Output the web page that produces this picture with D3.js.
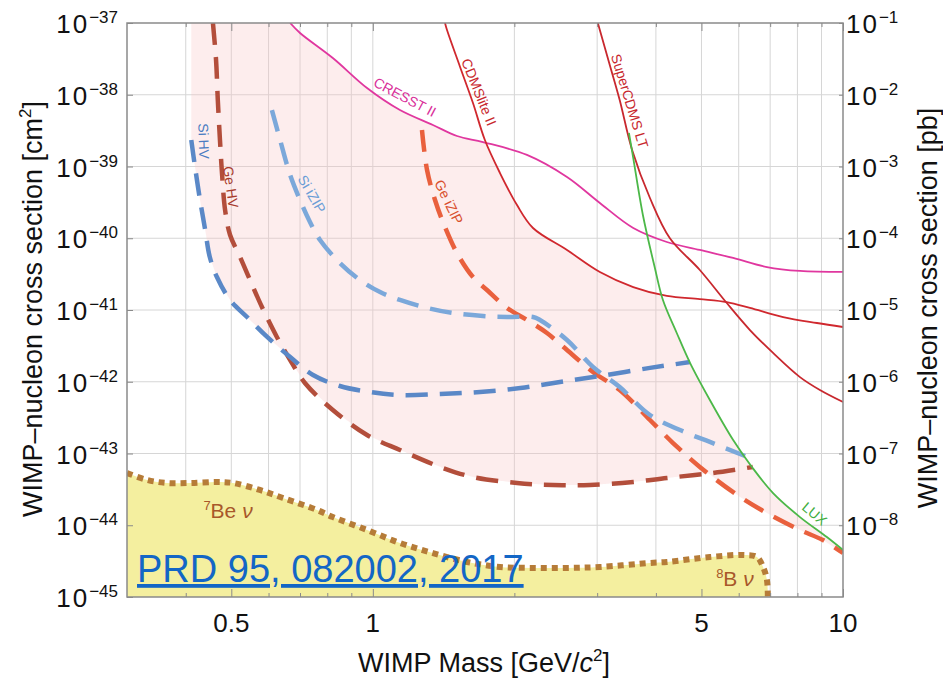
<!DOCTYPE html>
<html>
<head>
<meta charset="utf-8">
<script src="https://cdn.jsdelivr.net/npm/d3@7"></script>
<style>
  body { margin: 0; background: #fff; }
  text { font-family: "Liberation Sans", Arial, Helvetica, sans-serif; }
</style>
</head>
<body>
<div id="chart-area"></div>
<script>
// curves: [WIMP mass (GeV), cross section (cm^2)]
const cresst = [[0.667,1e-37],[0.700,7.26e-38],[0.822,3.25e-38],[0.972,1.24e-38],[1.142,6.12e-39],
  [1.342,3.79e-39],[1.510,2.66e-39],[1.715,2.19e-39],[2.127,1.45e-39],[2.588,7.14e-40],[3.04,3.10e-40],
  [3.58,1.39e-40],[4.22,8.87e-41],[4.96,6.86e-41],[5.84,5.31e-41],[6.89,3.97e-41],[8.10,3.50e-41],[10,3.39e-41]];

const cdmslite = [[1.424,1e-37],[1.438,7.98e-38],[1.533,2.44e-38],[1.633,7.67e-39],[1.731,2.34e-39],
  [1.864,8.11e-40],[2.026,2.90e-40],[2.191,1.39e-40],[2.588,6.86e-41],[3.04,3.39e-41],[3.58,2.09e-41],
  [4.22,1.57e-41],[4.96,1.42e-41],[5.66,1.29e-41],[6.34,1.07e-41],[7.46,7.98e-42],[8.80,6.59e-42],[10,5.79e-42]];

const superCdmsLT = [[3.01,1e-37],[3.20,2.44e-38],[3.35,8.45e-39],[3.56,1.70e-39],[3.885,3.64e-40],
  [4.28,1.01e-40],[4.96,3.61e-41],[5.66,1.25e-41],[6.34,5.26e-42],[7.10,2.52e-42],[8.10,1.16e-42],
  [8.93,7.67e-43],[10,5.22e-43]];

const lux = [[3.505,2.93e-39],[3.58,1.31e-39],[3.753,2.11e-40],[3.98,3.85e-41],[4.14,1.38e-41],
  [4.43,4.78e-42],[4.73,1.82e-42],[5.21,5.57e-43],[5.84,1.54e-43],[6.40,6.49e-44],[7.10,2.81e-44],
  [8.10,1.30e-44],[9.24,6.85e-45],[10,4.52e-45]];

const geIZIP = [[1.272,3.23e-39],[1.304,8.93e-40],[1.356,3.41e-40],[1.410,1.68e-40],[1.510,6.22e-41],
  [1.633,2.88e-41],[1.749,1.90e-41],[1.929,1.07e-41],[2.127,7.26e-42],[2.346,4.78e-42],[2.588,2.77e-42],
  [2.939,1.37e-42],[3.35,7.67e-43],[3.885,2.93e-43],[4.35,1.40e-43],[4.96,6.49e-44],[6.04,2.48e-44],
  [6.89,1.48e-44],[8.10,8.59e-45],[9.06,6.22e-45],[10,4.10e-45]];

const siIZIP = [[0.610,6.12e-39],[0.635,2.34e-39],[0.667,7.62e-40],[0.700,3.41e-40],[0.735,1.68e-40],
  [0.772,9.46e-41],[0.851,4.52e-41],[0.939,2.62e-41],[1.036,1.78e-41],[1.142,1.38e-41],[1.304,1.07e-41],
  [1.480,9.08e-42],[1.715,8.24e-42],[1.929,7.98e-42],[2.191,7.98e-42],[2.267,7.26e-42],[2.588,3.82e-42],
  [2.939,1.61e-42],[3.35,8.45e-43],[3.885,3.44e-43],[4.66,1.93e-43],[5.21,1.45e-43],[6.19,9.23e-44]];

const siHV = [[0.411,2.34e-39],[0.418,1.05e-39],[0.429,3.41e-40],[0.440,1.30e-40],[0.450,5.48e-41],
  [0.466,2.88e-41],[0.497,1.38e-41],[0.540,7.98e-42],[0.596,4.21e-42],[0.667,2.21e-42],[0.746,1.24e-42],
  [0.851,8.73e-43],[0.986,7.20e-43],[1.142,6.53e-43],[1.390,6.75e-43],[1.690,7.20e-43],[2.06,8.19e-43],
  [2.500,9.93e-43],[3.04,1.20e-42],[3.885,1.56e-42],[4.73,1.88e-42]];

const geHV = [[0.457,1e-37],[0.464,3.05e-38],[0.468,8.45e-39],[0.473,2.34e-39],[0.478,7.62e-40],
  [0.485,2.48e-40],[0.497,1.11e-40],[0.522,5.48e-41],[0.548,2.62e-41],[0.581,1.10e-41],[0.625,4.21e-42],
  [0.667,2.01e-42],[0.717,9.62e-43],[0.822,4.04e-43],[0.972,1.81e-43],[1.142,1.12e-43],[1.410,6.28e-44],
  [1.633,4.70e-44],[2.026,3.88e-44],[2.416,3.64e-44],[2.896,3.64e-44],[3.58,4.01e-44],[4.22,4.56e-44],
  [5.29,5.35e-44],[6.43,6.49e-44]];

const neutrinoFloor = [[0.3,5.35e-44],[0.331,4.28e-44],[0.365,3.88e-44],[0.408,3.88e-44],[0.466,4.01e-44],
  [0.504,3.88e-44],[0.575,3.10e-44],[0.644,2.40e-44],[0.761,1.63e-44],[0.822,1.30e-44],[0.972,8.59e-45],
  [1.142,5.66e-45],[1.342,4.10e-45],[1.586,3.08e-45],[1.864,2.62e-45],[2.191,2.54e-45],[2.588,2.54e-45],
  [3.04,2.62e-45],[3.885,2.98e-45],[4.22,3.08e-45],[5.21,3.61e-45],[6.13,3.85e-45],[6.56,3.61e-45],
  [6.76,2.62e-45],[6.89,1.73e-45],[6.92,1e-45]];

const xTickLabels = [0.5, 1, 5, 10];
const xMinorTicks = [0.4, 0.6, 0.7, 0.8, 0.9, 2, 3, 4, 6, 7, 8, 9];
const yExpCm = [-45, -44, -43, -42, -41, -40, -39, -38, -37];
const yExpPb = [-8, -7, -6, -5, -4, -3, -2, -1];

const margin = { left: 127, right: 100, top: 23, bottom: 81 };
const width = 943 - margin.left - margin.right;
const height = 678 - margin.top - margin.bottom;

const svg = d3.select('#chart-area').append('svg')
  .attr('width', 943)
  .attr('height', 678);

const g = svg.append('g')
  .attr('transform', `translate(${margin.left}, ${margin.top})`);

const x = d3.scaleLog().domain([0.3, 10]).range([0, width]);
const y = d3.scaleLog().domain([1e-45, 1e-37]).range([height, 0]);
const yPb = d3.scaleLog().domain([1e-9, 1e-1]).range([height, 0]);

svg.append('clipPath').attr('id', 'plot-clip')
  .append('rect').attr('width', width).attr('height', height);

// grid
const grid = g.append('g').attr('stroke', '#d6d6d6').attr('stroke-width', 1);
grid.selectAll('.vgrid')
  .data(xMinorTicks.concat([0.5, 1, 5]))
  .enter().append('line')
    .attr('x1', d => x(d)).attr('x2', d => x(d))
    .attr('y1', 0).attr('y2', height);
grid.selectAll('.hgrid')
  .data(yExpCm.slice(1, -1))
  .enter().append('line')
    .attr('x1', 0).attr('x2', width)
    .attr('y1', d => y(Math.pow(10, d))).attr('y2', d => y(Math.pow(10, d)));

const plot = g.append('g').attr('clip-path', 'url(#plot-clip)');

// pink region: above the lowest projection, below the current limits
function logAt(curve, m) {
  const lm = Math.log10(m);
  for (let i = 0; i < curve.length - 1; i++) {
    const a = Math.log10(curve[i][0]), b = Math.log10(curve[i + 1][0]);
    if (lm >= a && lm <= b) {
      const t = b > a ? (lm - a) / (b - a) : 0;
      const ya = Math.log10(curve[i][1]), yb = Math.log10(curve[i + 1][1]);
      return ya + t * (yb - ya);
    }
  }
  return NaN;
}
const limits = [cresst, cdmslite, superCdmsLT, lux];
const projections = [siHV, geHV, siIZIP, geIZIP];
const m0 = siHV[0][0];
const band = d3.range(0, 501).map(i => {
  const m = m0 * Math.pow(10 / m0, i / 500);
  const hi = Math.min(-37, ...limits.map(c => logAt(c, m)).filter(v => isFinite(v)));
  const lo = Math.min(...projections.map(c => logAt(c, m)).filter(v => isFinite(v)));
  return { m, hi, lo: Math.max(lo, -45) };
});
plot.append('path')
  .attr('d', d3.area()
    .x(d => x(d.m))
    .y0(d => y(Math.pow(10, d.lo)))
    .y1(d => y(Math.pow(10, Math.max(d.hi, d.lo))))(band))
  .attr('fill', '#f7c4c4')
  .attr('fill-opacity', 0.3);

// neutrino floor
const curve = d3.curveCatmullRom.alpha(0.5);
plot.append('path')
  .attr('d', d3.area().x(d => x(d[0])).y0(height).y1(d => y(d[1])).curve(curve)(neutrinoFloor))
  .attr('fill', '#f4ef9f');
plot.append('path')
  .attr('d', d3.line().x(d => x(d[0])).y(d => y(d[1])).curve(curve)(neutrinoFloor))
  .attr('fill', 'none')
  .attr('stroke', '#b67c38')
  .attr('stroke-width', 6)
  .attr('stroke-dasharray', '6,5');

const line = d3.line().x(d => x(d[0])).y(d => y(d[1])).curve(curve);

// projected sensitivities (dashed)
const dashed = [
  { data: geHV, color: '#b34e3b' },
  { data: geIZIP, color: '#e9603d' },
  { data: siHV, color: '#5a88c7' },
  { data: siIZIP, color: '#7ba8da' }
];
plot.selectAll('.proj')
  .data(dashed)
  .enter().append('path')
    .attr('d', d => line(d.data))
    .attr('fill', 'none')
    .attr('stroke', d => d.color)
    .attr('stroke-width', 4.5)
    .attr('stroke-dasharray', '22,12');

// current limits (solid)
const solid = [
  { data: cresst, color: '#e0379f' },
  { data: cdmslite, color: '#d0282e' },
  { data: superCdmsLT, color: '#c8282e' },
  { data: lux, color: '#4cb848' }
];
plot.selectAll('.limit')
  .data(solid)
  .enter().append('path')
    .attr('d', d => line(d.data))
    .attr('fill', 'none')
    .attr('stroke', d => d.color)
    .attr('stroke-width', 1.8);

// curve labels, set just beside their lines
const curveLabels = [
  { text: 'CRESST II', m: 1.170, s: 9.31e-39, angle: 28, color: '#d9309a' },
  { text: 'CDMSlite II', m: 1.682, s: 1.09e-38, angle: 68, color: '#c8282e' },
  { text: 'SuperCDMS LT', m: 3.52, s: 8.18e-39, angle: 73, color: '#c8282e' },
  { text: 'LUX', m: 8.70, s: 1.45e-44, angle: 40, color: '#3fae3f' },
  { text: 'Ge iZIP', m: 1.452, s: 3.20e-40, angle: 64, color: '#d9502e' },
  { text: 'Si iZIP', m: 0.742, s: 4.14e-40, angle: 60, color: '#6b9dd6' },
  { text: 'Si HV', m: 0.437, s: 2.26e-39, angle: 88, color: '#4a7cc2' },
  { text: 'Ge HV', m: 0.499, s: 5.18e-40, angle: 82, color: '#a83a2c' }
];
g.selectAll('.clabel')
  .data(curveLabels)
  .enter().append('text')
    .attr('transform', d => `translate(${x(d.m)}, ${y(d.s)}) rotate(${d.angle})`)
    .attr('text-anchor', 'middle')
    .attr('dominant-baseline', 'central')
    .attr('font-size', '14px')
    .attr('fill', d => d.color)
    .text(d => d.text);

// neutrino labels
const nuLabels = [
  { iso: '7', el: 'Be', m: 0.492, s: 1.63e-44 },
  { iso: '8', el: 'B', m: 5.89, s: 1.84e-45 }
];
const nu = g.selectAll('.nulabel')
  .data(nuLabels)
  .enter().append('text')
    .attr('x', d => x(d.m))
    .attr('y', d => y(d.s) + 8)
    .attr('text-anchor', 'middle')
    .attr('font-size', '21px')
    .attr('fill', '#a8582a');
nu.append('tspan').attr('font-size', '13px').attr('dy', -8).text(d => d.iso);
nu.append('tspan').attr('dy', 8).text(d => d.el + ' ');
nu.append('tspan').attr('font-style', 'italic').text('ν');

// frame
g.append('rect')
  .attr('width', width).attr('height', height)
  .attr('fill', 'none')
  .attr('stroke', '#8a8a8a')
  .attr('stroke-width', 1.5);

// ticks
const tickColor = '#8a8a8a';
g.append('g').attr('transform', `translate(0, ${height})`)
  .call(d3.axisBottom(x).tickValues(xTickLabels).tickSizeInner(-8).tickSizeOuter(0).tickFormat(''))
  .call(a => a.select('.domain').remove())
  .call(a => a.selectAll('line').attr('stroke', tickColor));
g.append('g').attr('transform', `translate(0, ${height})`)
  .call(d3.axisBottom(x).tickValues(xMinorTicks).tickSizeInner(-4).tickSizeOuter(0).tickFormat(''))
  .call(a => a.select('.domain').remove())
  .call(a => a.selectAll('line').attr('stroke', tickColor));
g.append('g')
  .call(d3.axisTop(x).tickValues(xTickLabels).tickSizeInner(-8).tickSizeOuter(0).tickFormat(''))
  .call(a => a.select('.domain').remove())
  .call(a => a.selectAll('line').attr('stroke', tickColor));
g.append('g')
  .call(d3.axisTop(x).tickValues(xMinorTicks).tickSizeInner(-4).tickSizeOuter(0).tickFormat(''))
  .call(a => a.select('.domain').remove())
  .call(a => a.selectAll('line').attr('stroke', tickColor));
g.append('g')
  .call(d3.axisLeft(y).tickValues(yExpCm.map(e => Math.pow(10, e))).tickSizeInner(-6).tickSizeOuter(0).tickFormat(''))
  .call(a => a.select('.domain').remove())
  .call(a => a.selectAll('line').attr('stroke', tickColor));
g.append('g').attr('transform', `translate(${width}, 0)`)
  .call(d3.axisRight(yPb).tickValues(yExpPb.map(e => Math.pow(10, e))).tickSizeInner(-4).tickSizeOuter(0).tickFormat(''))
  .call(a => a.select('.domain').remove())
  .call(a => a.selectAll('line').attr('stroke', tickColor));

// tick labels
g.selectAll('.xlabel')
  .data(xTickLabels)
  .enter().append('text')
    .attr('x', d => x(d))
    .attr('y', height + 35)
    .attr('text-anchor', 'middle')
    .attr('font-size', '26px')
    .attr('fill', '#111')
    .text(d => d);

const leftLab = g.selectAll('.ylabel')
  .data(yExpCm)
  .enter().append('text')
    .attr('x', -9)
    .attr('y', d => y(Math.pow(10, d)) + 10)
    .attr('text-anchor', 'end')
    .attr('font-size', '26px')
    .attr('fill', '#111');
leftLab.append('tspan').attr('letter-spacing', '2px').text('10');
leftLab.append('tspan').attr('dy', -10).attr('font-size', '17px').text(d => '\u2212' + Math.abs(d));

const rightLab = g.selectAll('.ylabelpb')
  .data(yExpPb)
  .enter().append('text')
    .attr('x', width + 3)
    .attr('y', d => yPb(Math.pow(10, d)) + 10)
    .attr('text-anchor', 'start')
    .attr('font-size', '26px')
    .attr('fill', '#111');
rightLab.append('tspan').attr('letter-spacing', '2px').text('10');
rightLab.append('tspan').attr('dy', -10).attr('font-size', '17px').text(d => '\u2212' + Math.abs(d));

// axis titles
const xTitle = svg.append('text')
  .attr('x', 484).attr('y', 672)
  .attr('text-anchor', 'middle')
  .attr('font-size', '27px')
  .attr('fill', '#111');
xTitle.append('tspan').text('WIMP Mass [GeV/');
xTitle.append('tspan').attr('font-style', 'italic').text('c');
xTitle.append('tspan').attr('dy', -11).attr('font-size', '17px').text('2');
xTitle.append('tspan').attr('dy', 11).text(']');

const yTitle = svg.append('text')
  .attr('transform', 'translate(42, 309) rotate(-90)')
  .attr('text-anchor', 'middle')
  .attr('font-size', '27px')
  .attr('fill', '#111');
yTitle.append('tspan').text('WIMP\u2013nucleon cross section [cm');
yTitle.append('tspan').attr('dy', -11).attr('font-size', '17px').text('2');
yTitle.append('tspan').attr('dy', 11).text(']');

svg.append('text')
  .attr('transform', 'translate(937, 308) rotate(-90)')
  .attr('text-anchor', 'middle')
  .attr('font-size', '27px')
  .attr('fill', '#111')
  .text('WIMP\u2013nucleon cross section [pb]');

// reference link
svg.append('text')
  .attr('x', 137).attr('y', 582)
  .attr('font-family', '"Noto Sans", "Open Sans", sans-serif')
  .attr('font-size', '38px')
  .attr('fill', '#1366c6')
  .attr('text-decoration', 'underline')
  .text('PRD 95, 082002, 2017');
</script>
</body>
</html>
